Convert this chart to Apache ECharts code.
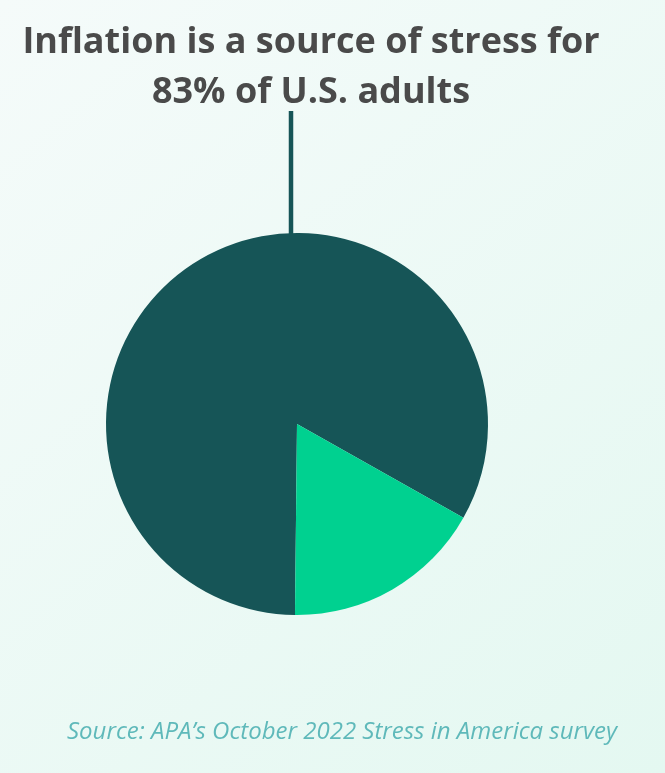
<!DOCTYPE html>
<html>
<head>
<meta charset="utf-8">
<script src="https://cdn.jsdelivr.net/npm/echarts@6/dist/echarts.min.js"></script>
<style>
html,body{margin:0;padding:0;}
#c{width:665px;height:773px;}
</style>
</head>
<body>
<div id="c"></div>
<script>
const categories = ["Inflation is a source of stress", "Not a source of stress"];
const values = [83, 17];
const colors = ["#165557", "#00d190"];
const titleText = "Inflation is a source of stress for\n83% of U.S. adults";
const sourceText = "Source: APA\u2019s October 2022 Stress in America survey";

const chart = echarts.init(document.getElementById('c'), null, {renderer: 'canvas'});
chart.setOption({
  backgroundColor: {
    type: 'linear', x: 0, y: 0, x2: 1, y2: 1,
    colorStops: [{offset: 0, color: '#f5fbfa'}, {offset: 1, color: '#e4f8f1'}]
  },
  title: {
    text: titleText,
    left: 306, top: 13, textAlign: 'center',
    textStyle: {fontFamily: 'Open Sans', fontWeight: 'bold', fontSize: 36, color: '#4a4a4a', lineHeight: 50}
  },
  graphic: [
    {type: 'line', shape: {x1: 291, y1: 111, x2: 291, y2: 240}, style: {stroke: '#165557', lineWidth: 4.5}, z: 1},
    {type: 'text', left: 67, top: 720, style: {text: sourceText, font: 'italic 24px "Open Sans"', fill: '#5fb9ba'}}
  ],
  series: [{
    type: 'pie',
    center: [297, 424],
    radius: [0, 191],
    startAngle: -90.6,
    clockwise: true,
    label: {show: false},
    labelLine: {show: false},
    silent: true,
    animation: false,
    z: 2,
    data: categories.map((c, i) => ({name: c, value: values[i], itemStyle: {color: colors[i]}}))
  }]
});
</script>
</body>
</html>
